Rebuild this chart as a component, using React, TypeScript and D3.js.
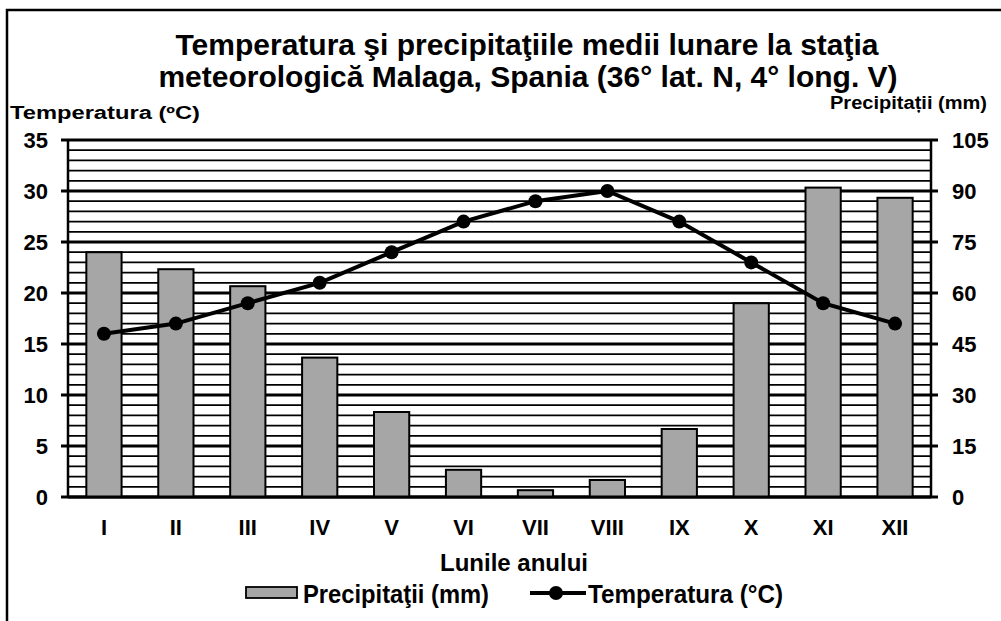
import React from 'react';
import * as d3 from 'd3';

const MONTHS = ['I', 'II', 'III', 'IV', 'V', 'VI', 'VII', 'VIII', 'IX', 'X', 'XI', 'XII'];
const PRECIP = [72, 67, 62, 41, 25, 8, 2, 5, 20, 57, 91, 88];
const TEMP = [16, 17, 19, 21, 24, 27, 29, 30, 27, 23, 19, 17];
const TEMP_TICKS = [0, 5, 10, 15, 20, 25, 30, 35];
const PRECIP_TICKS = [0, 15, 30, 45, 60, 75, 90, 105];

const W = 1001;
const H = 621;
const FONT = '"Liberation Sans", Arial, sans-serif';

export default function App() {
  const left = 68;
  const right = 931;
  const top = 140;
  const bottom = 497;

  const x = d3.scaleBand<string>().domain(MONTHS).range([left, right]).padding(0);
  const yT = d3.scaleLinear().domain([0, 35]).range([bottom, top]);
  const yP = d3.scaleLinear().domain([0, 105]).range([bottom, top]);
  const barW = x.bandwidth() * 0.49;
  const cx = (m: string) => (x(m) as number) + x.bandwidth() / 2;

  const line = d3.line<number>()
    .x((d, i) => cx(MONTHS[i]))
    .y(d => yT(d));

  const grid = d3.range(0, 36);

  return (
    <svg width={W} height={H} style={{ position: 'absolute', left: 0, top: 0, background: '#fff' }}
      fontFamily={FONT} fontWeight="bold">
      {/* outer frame, open on the right and bottom like the original */}
      <path d={`M7,${H + 5} V10 H${W + 5}`} fill="none" stroke="#000" strokeWidth={2.5} />

      <text x={527} y={55} textAnchor="middle" fontSize={30}>Temperatura şi precipitaţiile medii lunare la staţia</text>
      <text x={528} y={87} textAnchor="middle" fontSize={30}>meteorologică Malaga, Spania (36° lat. N, 4° long. V)</text>
      <text x={10} y={119} fontSize={18} textLength={190} lengthAdjust="spacingAndGlyphs">Temperatura (ºC)</text>
      <text x={830} y={109} fontSize={18} textLength={157} lengthAdjust="spacingAndGlyphs">Precipitații (mm)</text>

      {grid.map(t => (
        <line key={'g' + t} x1={left} x2={right} y1={yT(t)} y2={yT(t)}
          stroke="#000" strokeWidth={t % 5 === 0 ? 3 : 1.7} />
      ))}

      {MONTHS.map((m, i) => (
        <rect key={'b' + m} x={cx(m) - barW / 2} y={yP(PRECIP[i])} width={barW}
          height={bottom - yP(PRECIP[i])} fill="#a6a6a6" stroke="#000" strokeWidth={2} />
      ))}

      <line x1={left} x2={left} y1={top} y2={bottom} stroke="#000" strokeWidth={2.5} />
      <line x1={right} x2={right} y1={top} y2={bottom} stroke="#000" strokeWidth={2.5} />
      <line x1={left} x2={right} y1={bottom} y2={bottom} stroke="#000" strokeWidth={3} />

      {TEMP_TICKS.map(t => (
        <g key={'lt' + t}>
          <line x1={left - 7} x2={left} y1={yT(t)} y2={yT(t)} stroke="#000" strokeWidth={3} />
          <text x={48} y={yT(t)} dy="0.36em" textAnchor="end" fontSize={22}>{t}</text>
        </g>
      ))}
      {PRECIP_TICKS.map(p => (
        <g key={'rt' + p}>
          <line x1={right} x2={right + 7} y1={yP(p)} y2={yP(p)} stroke="#000" strokeWidth={3} />
          <text x={952} y={yP(p)} dy="0.36em" textAnchor="start" fontSize={22}>{p}</text>
        </g>
      ))}

      <path d={line(TEMP) || ''} fill="none" stroke="#000" strokeWidth={4} />
      {TEMP.map((t, i) => (
        <circle key={'c' + i} cx={cx(MONTHS[i])} cy={yT(t)} r={7} fill="#000" />
      ))}

      {MONTHS.map(m => (
        <text key={'m' + m} x={cx(m)} y={535} textAnchor="middle" fontSize={22}>{m}</text>
      ))}
      <text x={514} y={571} textAnchor="middle" fontSize={24}>Lunile anului</text>

      <rect x={246} y={587} width={51} height={11} fill="#a6a6a6" stroke="#000" strokeWidth={1.8} />
      <text x={303} y={603} fontSize={25} textLength={186} lengthAdjust="spacingAndGlyphs">Precipitaţii (mm)</text>
      <line x1={530} x2={586} y1={593} y2={593} stroke="#000" strokeWidth={4} />
      <circle cx={556} cy={593} r={7} fill="#000" />
      <text x={588} y={603} fontSize={25} textLength={195} lengthAdjust="spacingAndGlyphs">Temperatura (°C)</text>
    </svg>
  );
}
